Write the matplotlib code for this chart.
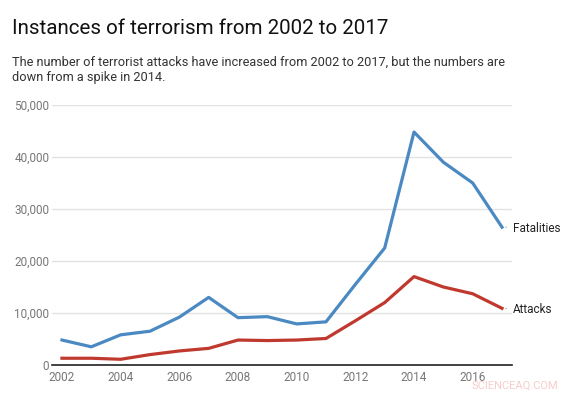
#!/usr/bin/env python3
"""Instances of terrorism 2002-2017: fatalities and attacks line chart."""

import matplotlib

matplotlib.use("Agg")
import matplotlib.pyplot as plt

years = list(range(2002, 2018))
fatalities = [4800, 3500, 5800, 6500, 9200, 13000, 9100, 9300, 7900, 8300,
              15500, 22500, 44800, 39000, 35000, 26500]
attacks = [1300, 1300, 1100, 2000, 2700, 3200, 4800, 4700, 4800, 5100,
           8500, 12000, 17000, 15000, 13700, 10900]
y_ticks = [0, 10000, 20000, 30000, 40000, 50000]
x_ticks = [2002, 2004, 2006, 2008, 2010, 2012, 2014, 2016]

BLUE = "#4a89c2"
RED = "#c0392e"
GREY = "#777777"

plt.rcParams["font.family"] = ["Roboto", "DejaVu Sans"]

fig = plt.figure(figsize=(5.68, 3.93), dpi=100)
W, H = 568, 393
ax = fig.add_axes([52 / W, 1 - 365 / H, (512 - 52) / W, (365 - 105) / H])

ax.plot(years, fatalities, color=BLUE, linewidth=2.3, solid_joinstyle="round")
ax.plot(years, attacks, color=RED, linewidth=2.3, solid_joinstyle="round")

ax.set_xlim(2001.66, 2017.34)
ax.set_ylim(0, 50000)
ax.set_yticks(y_ticks)
ax.set_yticklabels([f"{v:,}" for v in y_ticks])
ax.set_xticks(x_ticks)
ax.grid(axis="y", color="#e2e2e2", linewidth=1)
ax.set_axisbelow(True)
for side in ("top", "right", "left"):
    ax.spines[side].set_visible(False)
ax.spines["bottom"].set_color("#222222")
ax.spines["bottom"].set_linewidth(1.2)
ax.tick_params(axis="both", length=0, labelsize=8.5, labelcolor=GREY)
ax.tick_params(axis="x", pad=4)
ax.tick_params(axis="y", pad=2)

# end-of-line labels
for series, name in ((fatalities, "Fatalities"), (attacks, "Attacks")):
    ax.annotate(name, xy=(years[-1], series[-1]), xytext=(8, -1),
                textcoords="offset points", va="center", ha="left",
                fontsize=8.5, color="#222222")
    ax.annotate("", xy=(years[-1] + 0.12, series[-1]),
                xytext=(years[-1] + 0.25, series[-1]),
                arrowprops=dict(arrowstyle="-", color="#999999", lw=0.6))

fig.text(12 / W, 1 - 28 / H, "Instances of terrorism from 2002 to 2017",
         fontsize=14.8, color="#111111", va="center", ha="left")
fig.text(12 / W, 1 - 70 / H,
         "The number of terrorist attacks have increased from 2002 to 2017, but the numbers are\n"
         "down from a spike in 2014.",
         fontsize=9.2, color="#333333", va="center", ha="left", linespacing=1.3)
fig.text(472 / W, 1 - 386 / H, "SCIENCEAQ.COM", fontsize=8, color="#f6cccc",
         va="center", ha="left", zorder=0)

fig.savefig("out.png", dpi=100)
